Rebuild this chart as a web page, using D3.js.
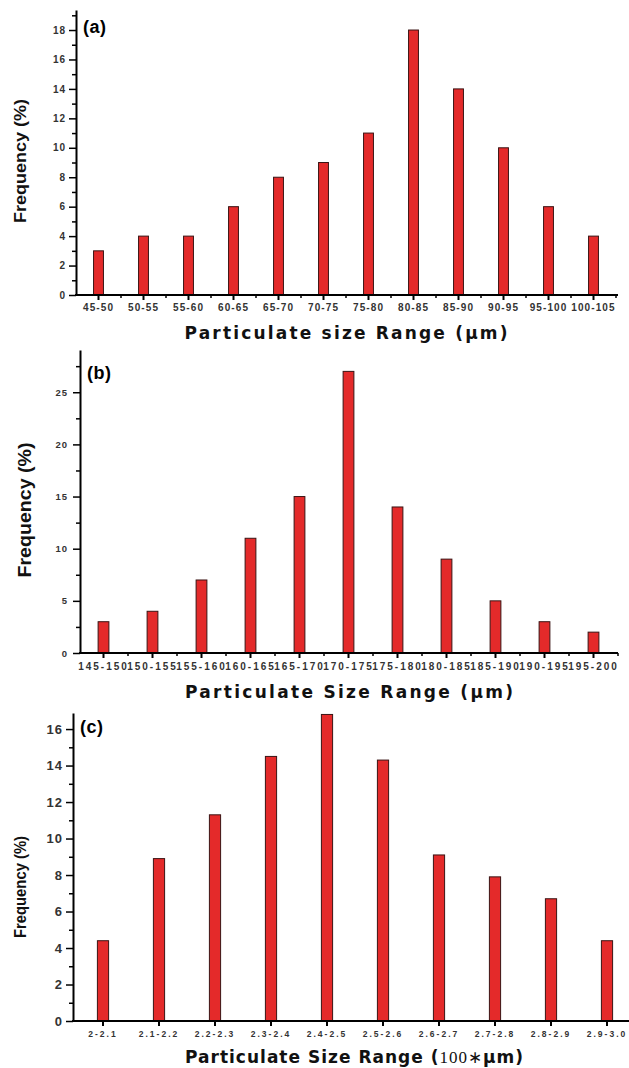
<!DOCTYPE html>
<html>
<head>
<meta charset="utf-8">
<script src="https://cdn.jsdelivr.net/npm/d3@7"></script>
<style>
  body { margin: 0; background: #fff; }
  svg { display: block; }
</style>
</head>
<body>
<svg width="629" height="1068"></svg>
<script>
// (a)
const catsA = ['45-50', '50-55', '55-60', '60-65', '65-70', '70-75', '75-80', '80-85', '85-90', '90-95', '95-100', '100-105']
const freqA = [3, 4, 4, 6, 8, 9, 11, 18, 14, 10, 6, 4]
const yTicksA = [0, 2, 4, 6, 8, 10, 12, 14, 16, 18]

// (b)
const catsB = ['145-150', '150-155', '155-160', '160-165', '165-170', '170-175', '175-180', '180-185', '185-190', '190-195', '195-200']
const freqB = [3, 4, 7, 11, 15, 27, 14, 9, 5, 3, 2]
const yTicksB = [0, 5, 10, 15, 20, 25]

// (c)
const catsC = ['2-2.1', '2.1-2.2', '2.2-2.3', '2.3-2.4', '2.4-2.5', '2.5-2.6', '2.6-2.7', '2.7-2.8', '2.8-2.9', '2.9-3.0']
const freqC = [4.4, 8.9, 11.3, 14.5, 16.8, 14.3, 9.1, 7.9, 6.7, 4.4]
const yTicksC = [0, 2, 4, 6, 8, 10, 12, 14, 16]

const svg = d3.select('svg')
const sans = '"Liberation Sans", Arial, sans-serif'
const wide = '"DejaVu Sans", Verdana, sans-serif'
const serif = '"Liberation Serif", "Times New Roman", serif'

function drawPanel(p) {
  const x = d3.scaleBand().domain(p.cats).range([p.x0, p.x1])
  const y = d3.scaleLinear().domain([0, p.yMax]).range([p.base, p.top])
  const g = svg.append('g')
  const rows = p.cats.map((c, i) => ({ cat: c, v: p.freq[i] }))
  const bw = x.bandwidth() * p.barFrac

  g.selectAll('rect')
    .data(rows)
    .join('rect')
    .attr('x', d => x(d.cat) + x.bandwidth() / 2 - bw / 2)
    .attr('y', d => y(d.v))
    .attr('width', bw)
    .attr('height', d => y(0) - y(d.v))
    .attr('fill', '#e42a2a')
    .attr('stroke', '#3a1414')
    .attr('stroke-width', 1)

  // y axis
  const yAxis = g.append('g')
    .attr('transform', `translate(${p.axisX},0)`)
    .call(d3.axisLeft(y).tickValues(p.yTicks).tickSize(7).tickPadding(p.yPad).tickSizeOuter(0))
  yAxis.select('.domain').attr('stroke-width', 2)
  yAxis.selectAll('.tick line').attr('stroke-width', 1.5)
  yAxis.selectAll('text')
    .attr('font-family', sans)
    .attr('font-weight', 'bold')
    .attr('font-size', p.yFont)
    .attr('letter-spacing', 1)
    .attr('fill', '#333')

  g.append('g')
    .attr('transform', `translate(${p.axisX},0)`)
    .call(d3.axisLeft(y).tickValues(p.yMinor).tickSize(4).tickFormat(''))
    .call(a => a.select('.domain').remove())
    .selectAll('.tick line').attr('stroke-width', 1.5)

  // x axis
  const xAxis = g.append('g')
    .attr('transform', `translate(0,${p.base})`)
    .call(d3.axisBottom(x).tickSize(5).tickPadding(p.xPad).tickSizeOuter(0))
  xAxis.select('.domain').remove()
  xAxis.selectAll('.tick line').attr('stroke-width', 2)
  xAxis.selectAll('text')
    .attr('font-family', sans)
    .attr('font-weight', 'bold')
    .attr('font-size', p.xFont)
    .attr('letter-spacing', p.xSpacing)
    .attr('fill', '#333')

  g.append('line')
    .attr('x1', p.axisX - 1)
    .attr('x2', p.axisEnd)
    .attr('y1', p.base)
    .attr('y2', p.base)
    .attr('stroke', '#000')
    .attr('stroke-width', 2)

  if (p.xMinor) {
    g.selectAll('line.minor')
      .data(p.cats.slice(1).concat(['end']))
      .join('line')
      .attr('class', 'minor')
      .attr('x1', d => d === 'end' ? p.x1 : x(d))
      .attr('x2', d => d === 'end' ? p.x1 : x(d))
      .attr('y1', p.base)
      .attr('y2', p.base + 3)
      .attr('stroke', '#000')
      .attr('stroke-width', 1.5)
  }

  // panel tag
  g.append('text')
    .attr('x', p.axisX + 7)
    .attr('y', p.tagY)
    .attr('font-family', sans)
    .attr('font-weight', 'bold')
    .attr('font-size', 18)
    .attr('letter-spacing', 0.5)
    .text(p.tag)

  // y title
  g.append('text')
    .attr('transform', `translate(${p.ytX},${p.ytY}) rotate(-90)`)
    .attr('text-anchor', 'middle')
    .attr('font-family', sans)
    .attr('font-weight', 'bold')
    .attr('font-size', p.ytFont)
    .attr('textLength', p.ytLen)
    .attr('lengthAdjust', 'spacingAndGlyphs')
    .attr('fill', '#111')
    .text('Frequency (%)')

  // x title
  const xt = g.append('text')
    .attr('x', p.xtX)
    .attr('y', p.xtY)
    .attr('text-anchor', 'middle')
    .attr('font-family', wide)
    .attr('font-weight', 'bold')
    .attr('font-size', 17)
    .attr('textLength', p.xtLen)
    .attr('lengthAdjust', 'spacing')
    .attr('fill', '#111')
  p.xtParts.forEach(part => {
    xt.append('tspan')
      .attr('font-family', part.serif ? serif : wide)
      .attr('font-weight', part.serif ? 'normal' : 'bold')
      .text(part.t)
  })
}

drawPanel({
  cats: catsA, freq: freqA, yTicks: yTicksA, yMinor: d3.range(1, 20, 2),
  x0: 76, x1: 616, axisX: 76, axisEnd: 618, base: 295, top: 10, yMax: 19.36,
  barFrac: 0.22, yFont: 10, yPad: 3, xFont: 10, xSpacing: 1.1, xPad: 4, xMinor: true,
  tag: '(a)', tagY: 33,
  ytX: 26, ytY: 161, ytFont: 17, ytLen: 124,
  xtX: 346, xtY: 339, xtLen: 323,
  xtParts: [{ t: 'Particulate size Range (μm)' }]
})

drawPanel({
  cats: catsB, freq: freqB, yTicks: yTicksB, yMinor: d3.range(2.5, 29, 5),
  x0: 79, x1: 618, axisX: 80, axisEnd: 618, base: 653, top: 350, yMax: 29.05,
  barFrac: 0.22, yFont: 9.5, yPad: 5, xFont: 10, xSpacing: 2, xPad: 5, xMinor: true,
  tag: '(b)', tagY: 379,
  ytX: 31, ytY: 510, ytFont: 19, ytLen: 135,
  xtX: 349, xtY: 698, xtLen: 328,
  xtParts: [{ t: 'Particulate Size Range (μm)' }]
})

drawPanel({
  cats: catsC, freq: freqC, yTicks: yTicksC, yMinor: d3.range(1, 16, 2),
  x0: 75, x1: 635, axisX: 73, axisEnd: 629, base: 1021, top: 713, yMax: 16.88,
  barFrac: 0.2, yFont: 13, yPad: 3, xFont: 8.5, xSpacing: 2, xPad: 5, xMinor: false,
  tag: '(c)', tagY: 733,
  ytX: 26, ytY: 887, ytFont: 17, ytLen: 102,
  xtX: 354, xtY: 1063, xtLen: 338,
  xtParts: [{ t: 'Particulate Size Range (' }, { t: '100∗', serif: true }, { t: 'μm' }, { t: ')' }]
})
</script>
</body>
</html>
